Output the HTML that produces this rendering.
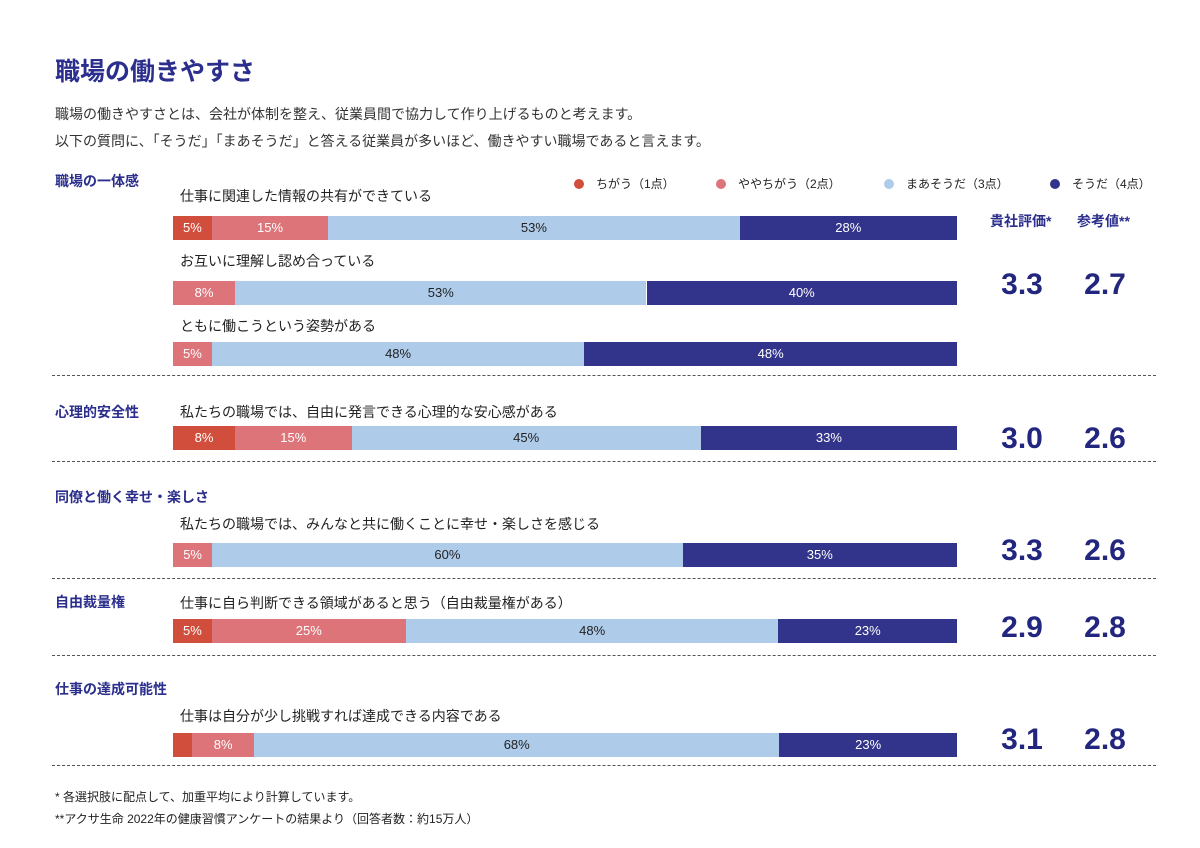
<!DOCTYPE html>
<html><head><meta charset="utf-8">
<style>
body{margin:0;background:#fff;font-family:"Liberation Sans","Noto Sans CJK JP",sans-serif;}
#root{position:relative;width:1200px;height:848px;overflow:hidden;}
.abs{position:absolute;white-space:nowrap;}
.title{left:55px;top:52px;font-size:25px;font-weight:bold;color:#2b2e8c;}
.desc{left:55px;font-size:14px;color:#333;}
.sec{left:55px;font-size:14px;font-weight:bold;color:#2b2e8c;}
.item{left:180px;font-size:14px;color:#222;}
.seg{position:absolute;height:24px;color:#fff;font-size:13px;text-align:center;line-height:24px;overflow:hidden;}
.dash{position:absolute;left:52px;width:1104px;border-top:1.5px dashed #555;height:0;}
.score{position:absolute;width:80px;text-align:center;font-size:30px;font-weight:bold;color:#23267e;}
.hdr{font-size:14px;font-weight:bold;color:#2b2e8c;}
.leg{font-size:12px;color:#222;}
.dot{display:inline-block;width:10px;height:10px;border-radius:50%;margin-right:12px;vertical-align:-1px;}
.foot{left:55px;font-size:12px;color:#222;}
</style></head><body>
<div id="root">
<div class="abs title">職場の働きやすさ</div>
<div class="abs desc" style="top:104px">職場の働きやすさとは、会社が体制を整え、従業員間で協力して作り上げるものと考えます。</div>
<div class="abs desc" style="top:131px">以下の質問に、「そうだ」「まあそうだ」と答える従業員が多いほど、働きやすい職場であると言えます。</div>

<div class="abs leg" style="left:574px;top:175px"><span class="dot" style="background:#d24e3c"></span>ちがう（1点）</div>
<div class="abs leg" style="left:716px;top:175px"><span class="dot" style="background:#dc7479"></span>ややちがう（2点）</div>
<div class="abs leg" style="left:884px;top:175px"><span class="dot" style="background:#aecbea"></span>まあそうだ（3点）</div>
<div class="abs leg" style="left:1050px;top:175px"><span class="dot" style="background:#32338a"></span>そうだ（4点）</div>

<div class="abs hdr" style="left:990px;top:211px">貴社評価*</div>
<div class="abs hdr" style="left:1077px;top:211px">参考値**</div>

<div class="abs foot" style="top:788px">* 各選択肢に配点して、加重平均により計算しています。</div>
<div class="abs foot" style="top:810px">**アクサ生命 2022年の健康習慣アンケートの結果より（回答者数：約15万人）</div>
</div>
<script>
const sections=["職場の一体感","心理的安全性","同僚と働く幸せ・楽しさ","自由裁量権","仕事の達成可能性"];
const sectionTop=[171,402,487,592,679];
const items=["仕事に関連した情報の共有ができている","お互いに理解し認め合っている","ともに働こうという姿勢がある","私たちの職場では、自由に発言できる心理的な安心感がある","私たちの職場では、みんなと共に働くことに幸せ・楽しさを感じる","仕事に自ら判断できる領域があると思う（自由裁量権がある）","仕事は自分が少し挑戦すれば達成できる内容である"];
const itemTop=[186,251,316,402,514,593,706];
const barTop=[216,281,342,426,543,619,733];
const v1=[5,0,0,8,0,5,2.5];
const v2=[15,8,5,15,5,25,8];
const v3=[53,53,48,45,60,48,68];
const v4=[28,40,48,33,35,23,23];
const labels1=["5%","","","8%","","5%",""];
const labels2=["15%","8%","5%","15%","5%","25%","8%"];
const labels3=["53%","53%","48%","45%","60%","48%","68%"];
const labels4=["28%","40%","48%","33%","35%","23%","23%"];
const companyScore=["3.3","3.0","3.3","2.9","3.1"];
const referenceScore=["2.7","2.6","2.6","2.8","2.8"];
const scoreTop=[268,422,534,611,723];
const dashTop=[375,461,578,655,765];

const root=document.getElementById('root');
const colors=["#d24e3c","#dc7479","#aecbea","#32338a"];
const textColors=["#fff","#fff","#222","#fff"];
const X0=173,W=784;
sections.forEach((s,i)=>{
  const d=document.createElement('div');d.className='abs sec';d.style.top=sectionTop[i]+'px';d.textContent=s;
  
  
  root.appendChild(d);
  const a=document.createElement('div');a.className='score';a.style.left='982px';a.style.top=scoreTop[i]+'px';a.textContent=companyScore[i];
  
  
  root.appendChild(a);
  const b=document.createElement('div');b.className='score';b.style.left='1065px';b.style.top=scoreTop[i]+'px';b.textContent=referenceScore[i];
  
  
  root.appendChild(b);
  const l=document.createElement('div');l.className='dash';l.style.top=dashTop[i]+'px';
  
  
  root.appendChild(l);
});
items.forEach((t,i)=>{
  const d=document.createElement('div');d.className='abs item';d.style.top=itemTop[i]+'px';d.textContent=t;
  
  
  root.appendChild(d);
  const vals=[v1[i],v2[i],v3[i],v4[i]];
  const labs=[labels1[i],labels2[i],labels3[i],labels4[i]];
  const tot=vals.reduce((a,b)=>a+b,0);
  let acc=0;
  vals.forEach((v,k)=>{
    if(v<=0)return;
    const x=X0+acc/tot*W; acc+=v; const x2=X0+acc/tot*W;
    const s=document.createElement('div');s.className='seg';
    s.style.left=x+'px';s.style.width=(x2-x)+'px';s.style.top=barTop[i]+'px';s.style.background=colors[k];s.style.color=textColors[k];
    s.textContent=labs[k];
    
    
    root.appendChild(s);
  });
});
</script>
</body></html>
